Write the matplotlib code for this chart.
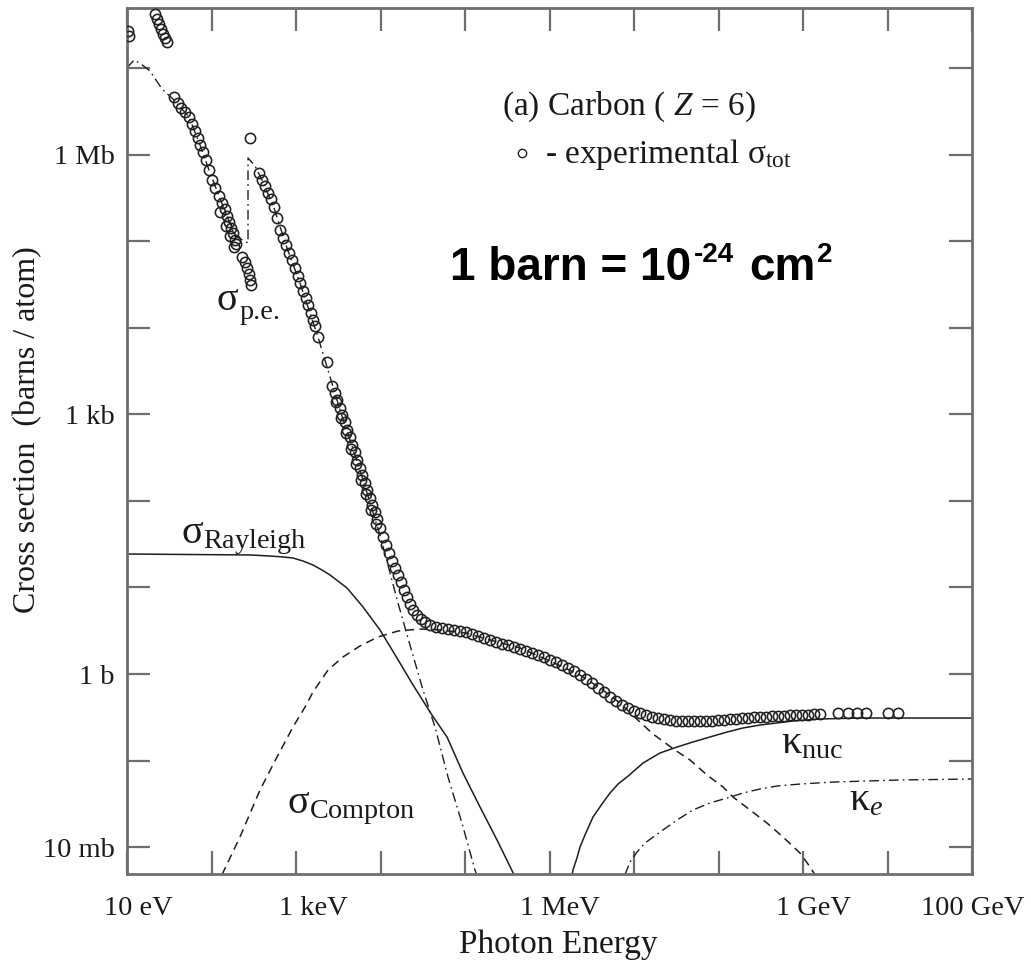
import numpy as np
import matplotlib
matplotlib.use("Agg")
import matplotlib.pyplot as plt
import matplotlib.transforms as mtransforms
from matplotlib.ticker import NullLocator, NullFormatter

plt.rcParams['font.family'] = ['Liberation Serif', 'DejaVu Serif']
plt.rcParams['mathtext.fontset'] = 'custom'
plt.rcParams['mathtext.rm'] = 'Liberation Serif'
plt.rcParams['mathtext.it'] = 'Liberation Serif:italic'
plt.rcParams['mathtext.bf'] = 'Liberation Serif:bold'

# ---------------- data (log10 of photon energy in eV, log10 of cross section in barns) -------------
data_log_E = [
    1.012, 1.024,
    1.331, 1.355, 1.379, 1.402, 1.426, 1.450, 1.473,
    1.556, 1.604, 1.639, 1.686, 1.734, 1.769, 1.805, 1.840, 1.864, 1.899, 1.935, 1.970,
    2.006, 2.041, 2.089, 2.124, 2.160, 2.101, 2.183, 2.207, 2.172, 2.231, 2.254, 2.219,
    2.278, 2.290, 2.266,
    2.361, 2.396, 2.420, 2.444, 2.456, 2.467,
    2.456,
    2.562, 2.598, 2.633, 2.669, 2.704, 2.740, 2.775, 2.811, 2.846, 2.882, 2.917, 2.953,
    2.988, 3.024, 3.047, 3.083, 3.118, 3.142, 3.178, 3.201, 3.225, 3.260,
    3.367,
    3.426, 3.462, 3.485, 3.521, 3.544, 3.580, 3.604, 3.639, 3.663, 3.698, 3.722, 3.757,
    3.781, 3.817, 3.840, 3.876, 3.899, 3.935, 3.959, 3.994, 4.030, 4.065, 4.101, 4.136,
    4.172, 4.207, 4.243, 4.278, 4.314, 4.349, 4.385, 4.432, 4.479, 4.527, 4.586, 4.657,
    4.728, 4.799, 4.870, 4.941, 5.012, 5.083, 5.154, 5.225, 5.296, 5.367, 5.438, 5.509,
    5.580, 5.651, 5.722, 5.793, 5.864, 5.935, 6.006, 6.077, 6.148, 6.219, 6.290, 6.361,
    6.432, 6.503, 6.574, 6.645, 6.716, 6.787, 6.858, 6.929, 7.000, 7.071, 7.142, 7.213,
    7.284, 7.355, 7.426, 7.497, 7.568, 7.639, 7.710, 7.781, 7.852, 7.923, 7.994, 8.065,
    8.136, 8.207, 8.278, 8.349, 8.420, 8.491, 8.562, 8.633, 8.704, 8.775, 8.846, 8.917,
    8.988, 9.059, 9.130, 9.201,
    9.414, 9.533, 9.639, 9.746, 10.006, 10.124,
    3.473, 3.533, 3.592, 3.651, 3.710, 3.769, 3.828, 3.888, 3.947,
]
data_log_sigma = [
    7.434, 7.376,
    7.630, 7.572, 7.515, 7.457, 7.399, 7.353, 7.306,
    6.671, 6.601, 6.544, 6.497, 6.439, 6.358, 6.278, 6.197, 6.116, 6.035, 5.942, 5.827,
    5.711, 5.619, 5.526, 5.445, 5.376, 5.341, 5.295, 5.226, 5.179, 5.156, 5.098, 5.064,
    5.017, 4.971, 4.937,
    4.821, 4.763, 4.694, 4.624, 4.555, 4.497,
    6.197,
    5.792, 5.711, 5.642, 5.561, 5.491, 5.399, 5.272, 5.133, 5.041, 4.960, 4.867, 4.786,
    4.694, 4.601, 4.520, 4.428, 4.347, 4.266, 4.174, 4.093, 4.023, 3.896,
    3.607,
    3.330, 3.249, 3.168, 3.075, 2.994, 2.913, 2.821, 2.740, 2.647, 2.567, 2.474, 2.382,
    2.301, 2.208, 2.127, 2.035, 1.954, 1.873, 1.792, 1.688, 1.584, 1.491, 1.399, 1.306,
    1.225, 1.145, 1.064, 0.971, 0.890, 0.809, 0.740, 0.682, 0.636, 0.601, 0.566, 0.543,
    0.532, 0.520, 0.509, 0.497, 0.486, 0.462, 0.439, 0.416, 0.393, 0.370, 0.347, 0.335,
    0.312, 0.289, 0.266, 0.243, 0.220, 0.197, 0.162, 0.139, 0.104, 0.069, 0.035, -0.012,
    -0.058, -0.104, -0.162, -0.208, -0.266, -0.312, -0.358, -0.393, -0.428, -0.451, -0.474, -0.497,
    -0.509, -0.520, -0.532, -0.543, -0.543, -0.543, -0.543, -0.543, -0.543, -0.543, -0.532, -0.532,
    -0.520, -0.520, -0.509, -0.509, -0.497, -0.497, -0.497, -0.486, -0.486, -0.486, -0.474, -0.474,
    -0.474, -0.474, -0.462, -0.462,
    -0.451, -0.451, -0.451, -0.451, -0.451, -0.451,
    3.145, 2.960, 2.786, 2.601, 2.428, 2.243, 2.081, 1.896, 1.734,
]

rayleigh_log_E = [1.000, 2.456, 2.692, 2.846, 2.964, 3.083, 3.201, 3.308, 3.402, 3.604,
                  3.793, 3.994, 4.195, 4.385, 4.609, 4.787, 4.976, 5.178, 5.379, 5.580]
rayleigh_log_sigma = [1.387, 1.376, 1.364, 1.353, 1.341, 1.306, 1.260, 1.202, 1.145, 0.994,
                      0.775, 0.509, 0.185, -0.127, -0.474, -0.728, -1.145, -1.538, -1.919, -2.320]

compton_log_E = [2.124, 2.337, 2.574, 2.775, 2.964, 3.107, 3.201, 3.379, 3.556, 3.757,
                 3.970, 4.207, 4.467, 4.704, 5.012, 5.296, 5.651, 6.006, 6.361, 6.598,
                 6.834, 7.071, 7.225, 7.485, 7.663, 7.864, 8.053, 8.172, 8.373, 8.574,
                 8.763, 8.964, 9.059, 9.142]
compton_log_sigma = [-2.320, -1.884, -1.341, -0.960, -0.613, -0.382, -0.208, 0.046, 0.197, 0.324,
                     0.428, 0.497, 0.520, 0.509, 0.474, 0.393, 0.301, 0.150, -0.012, -0.162,
                     -0.335, -0.555, -0.694, -0.879, -0.994, -1.168, -1.306, -1.422, -1.572, -1.723,
                     -1.884, -2.069, -2.197, -2.320]

pe_log_E = [1.000, 1.083, 1.166, 1.272, 1.414, 1.556, 1.734, 1.864, 1.970, 2.089, 2.183,
            2.278, 2.432, 2.432, 2.515, 2.598, 2.740, 2.893, 3.047, 3.260, 3.521, 3.757,
            3.994, 4.207, 4.349, 4.503, 4.645, 4.799, 4.964, 5.118, 5.154]
pe_log_sigma = [7.006, 7.098, 7.052, 6.971, 6.763, 6.636, 6.439, 6.116, 5.827, 5.526, 5.295,
                5.064, 4.983, 5.965, 5.873, 5.711, 5.387, 4.925, 4.520, 3.896, 3.052, 2.358,
                1.607, 0.821, 0.335, -0.185, -0.613, -1.191, -1.723, -2.266, -2.370]

knuc_log_E = [6.266, 6.278, 6.325, 6.361, 6.420, 6.515, 6.621, 6.716, 6.811, 6.917, 7.107,
              7.308, 7.509, 7.698, 7.899, 8.101, 8.290, 8.491, 8.692, 8.882, 9.201, 9.675,
              10.148, 11.000]
knuc_log_sigma = [-2.320, -2.266, -2.127, -2.000, -1.861, -1.653, -1.503, -1.376, -1.272, -1.191,
                  -1.029, -0.913, -0.844, -0.786, -0.728, -0.671, -0.624, -0.590, -0.566, -0.543,
                  -0.520, -0.509, -0.509, -0.509]

ke_log_E = [6.893, 6.953, 7.036, 7.130, 7.308, 7.509, 7.698, 7.899, 8.101, 8.290, 8.491,
            8.692, 8.964, 9.355, 9.757, 10.148, 11.000]
ke_log_sigma = [-2.320, -2.173, -2.058, -1.954, -1.827, -1.688, -1.572, -1.491, -1.434, -1.376,
                -1.329, -1.295, -1.272, -1.249, -1.237, -1.225, -1.214]

x_tick_values = [1e1, 1e2, 1e3, 1e4, 1e5, 1e6, 1e7, 1e8, 1e9, 1e10, 1e11]
x_label_values = [1e1, 1e3, 1e6, 1e9, 1e11]
x_label_texts = ["10 eV", "1 keV", "1 MeV", "1 GeV", "100 GeV"]
y_tick_values = [1e-2, 1e-1, 1e0, 1e1, 1e2, 1e3, 1e4, 1e5, 1e6, 1e7]
y_tick_labels = ["10 mb", "", "1 b", "", "", "1 kb", "", "", "1 Mb", ""]

# ---------------- figure ----------------
W, H = 1031, 965
fig = plt.figure(figsize=(W / 100, H / 100), dpi=100)
ax = fig.add_axes([127 / W, (H - 874) / H, 845 / W, 866 / H])

def p(a):
    return 10.0 ** np.asarray(a)

line_col = '#1e1e1e'
ax.plot(p(rayleigh_log_E), p(rayleigh_log_sigma), color=line_col, lw=1.1)
ax.plot(p(compton_log_E), p(compton_log_sigma), color=line_col, lw=1.1,
        linestyle=(0, (5.5, 3.6)))
ax.plot(p(pe_log_E), p(pe_log_sigma), color=line_col, lw=1.0,
        linestyle=(0, (7, 3, 1.2, 3)))
ax.plot(p(knuc_log_E), p(knuc_log_sigma), color=line_col, lw=1.1)
ax.plot(p(ke_log_E), p(ke_log_sigma), color=line_col, lw=1.0,
        linestyle=(0, (7, 3, 1.2, 3)))
ax.plot(p(data_log_E), p(data_log_sigma), linestyle='none', marker='o', markersize=7.4,
        markerfacecolor='none', markeredgecolor='#202020', markeredgewidth=1.15, zorder=5)

ax.set_xscale('log')
ax.set_yscale('log')
ax.set_xlim(1e1, 1e11)
ax.set_ylim(10 ** -2.312, 10 ** 7.699)

ax.set_xticks(x_tick_values)
ax.xaxis.set_major_formatter(NullFormatter())
ax.set_yticks(y_tick_values)
ax.set_yticklabels(y_tick_labels)
ax.xaxis.set_minor_locator(NullLocator())
ax.yaxis.set_minor_locator(NullLocator())
ax.xaxis.set_minor_formatter(NullFormatter())

frame_col = '#6e6e6e'
for s in ax.spines.values():
    s.set_color(frame_col)
    s.set_linewidth(2.0)
ax.tick_params(which='major', direction='in', top=True, right=True, length=16.5, width=1.6,
               color=frame_col, labelsize=20.5, labelcolor='#1a1a1a')
ax.tick_params(axis='y', pad=9)

def fx(px):
    return px / W

def fy(py):
    return 1 - py / H

tc = '#1a1a1a'

# x tick labels (placed a little right of their ticks as in the original)
x_label_shift_px = [11, 17, 10, 11, 1]
base = mtransforms.blended_transform_factory(ax.transData, fig.transFigure)
for v, s, dx in zip(x_label_values, x_label_texts, x_label_shift_px):
    tr = base + mtransforms.ScaledTranslation(dx / 100, 0, fig.dpi_scale_trans)
    ax.text(v, fy(915), s, transform=tr, ha='center', va='baseline', fontsize=20.5,
            color=tc, clip_on=False)

fig.text(fx(558), fy(953), "Photon Energy", ha='center', va='baseline', fontsize=24, color=tc)
fig.text(fx(28), fy(430), "Cross section  (barns / atom)", rotation=90, ha='center',
         va='center', fontsize=23, color=tc)

fig.text(fx(502), fy(115), r"(a) Carbon ( $Z$ = 6)", ha='left', va='baseline', fontsize=24, color=tc)
ax.plot([(522 - 127) / 845], [(874 - 153) / 866], transform=ax.transAxes, marker='o',
        markersize=6, markerfacecolor='none', markeredgecolor='#202020', markeredgewidth=1.0,
        clip_on=False)
fig.text(fx(545), fy(163), r"- experimental $\mathrm{\sigma}_{\mathrm{tot}}$", ha='left',
         va='baseline', fontsize=24, color=tc)

# "1 barn = 10^-24 cm^2" in bold sans, built from pieces
bold = dict(fontfamily='Liberation Sans', fontweight='bold', color='black', va='baseline')
t1 = fig.text(fx(450), fy(280), "1 barn = 10", fontsize=33, **bold)
fig.canvas.draw()
rend = fig.canvas.get_renderer()
b1 = t1.get_window_extent(rend)
t2 = fig.text((b1.x1 + 3) / W, fy(262), "-24", fontsize=20, **bold)
b2 = t2.get_window_extent(rend)
t3 = fig.text((b2.x1 + 15) / W, fy(280), "cm", fontsize=33, **bold)
b3 = t3.get_window_extent(rend)
fig.text((b3.x1 + 1) / W, fy(262), "2", fontsize=20, **bold)

lab = dict(ha='left', va='baseline', fontsize=29, color=tc)
# sigma_p.e. built from two plain-text pieces to keep "p.e." tight
ts = fig.text(fx(217), fy(310), "σ", **lab)
bs = ts.get_window_extent(rend)
fig.text((bs.x1 + 1) / W, fy(319), "p.e.", ha='left', va='baseline', fontsize=20.3, color=tc)
fig.text(fx(181), fy(543), r"$\mathrm{\sigma}_{\mathrm{Rayleigh}}$", **lab)
fig.text(fx(287), fy(813), r"$\mathrm{\sigma}_{\mathrm{Compton}}$", **lab)
fig.text(fx(781), fy(753), r"$\mathrm{\kappa}_{\mathrm{nuc}}$", **lab)
fig.text(fx(849), fy(810), r"$\mathrm{\kappa}_{e}$", **lab)

fig.savefig("out.png", dpi=100)
